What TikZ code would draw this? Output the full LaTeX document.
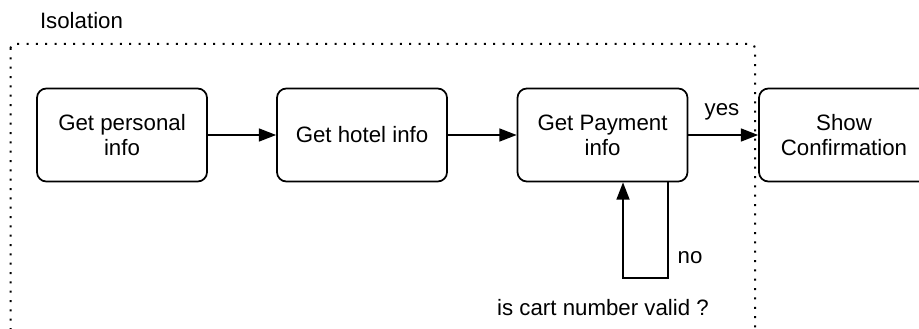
\documentclass[tikz,border=0pt]{standalone}
\usepackage{fontspec}
\setmainfont{Liberation Sans}
\usetikzlibrary{arrows.meta}
\usetikzlibrary{positioning}

\begin{document}
\begin{tikzpicture}[x=0.75pt,y=-0.75pt]
	\tikzset{>={Triangle[length=13pt,width=9.75pt]}}
	\tikzset{stepbox/.style={draw,line width=1.3pt,rounded corners=7pt,
		minimum width=127.5pt,minimum height=69.75pt,align=center,
		font=\fontsize{16.7}{18.75}\selectfont}}
	\tikzset{lbl/.style={font=\fontsize{16.7}{18.75}\selectfont}}
	\clip (0,0) rectangle (919,328);
	
	% isolation frame
	\draw[line width=1.5pt,dash pattern=on 1.5pt off 5.5pt,rounded corners=3pt]
		(10.5,44) rectangle (755,340);
	\node[lbl] (iso) at (81.5,20.5) {Isolation};
	
	\node[stepbox] (personal) at (122,135) {Get personal\\info};
	\node[stepbox] (hotel) at (362,135) {Get hotel info};
	\node[stepbox] (payment) at (602.5,135) {Get Payment\\info};
	\node[stepbox] (confirm) at (844,135) {Show\\Confirmation};
	
	\coordinate (loopR) at (668,278);
	\coordinate (loopL) at (623,278);
	
	\draw[->,line width=1.3pt] (personal) -- (hotel);
	\draw[->,line width=1.3pt] (hotel) -- (payment);
	\draw[->,line width=1.3pt] (payment) -- (confirm);
	\node[lbl] (yes) at (722,112) {yes};
	
	\draw[->,line width=1.3pt] (payment.south -| loopR) -- (loopR) -- (loopL) -- (payment.south -| loopL);
	\node[lbl] (no) at (690,258) {no};
	\node[lbl] (valid) at (603,308) {is cart number valid ?};
	
\end{tikzpicture}
\end{document}
